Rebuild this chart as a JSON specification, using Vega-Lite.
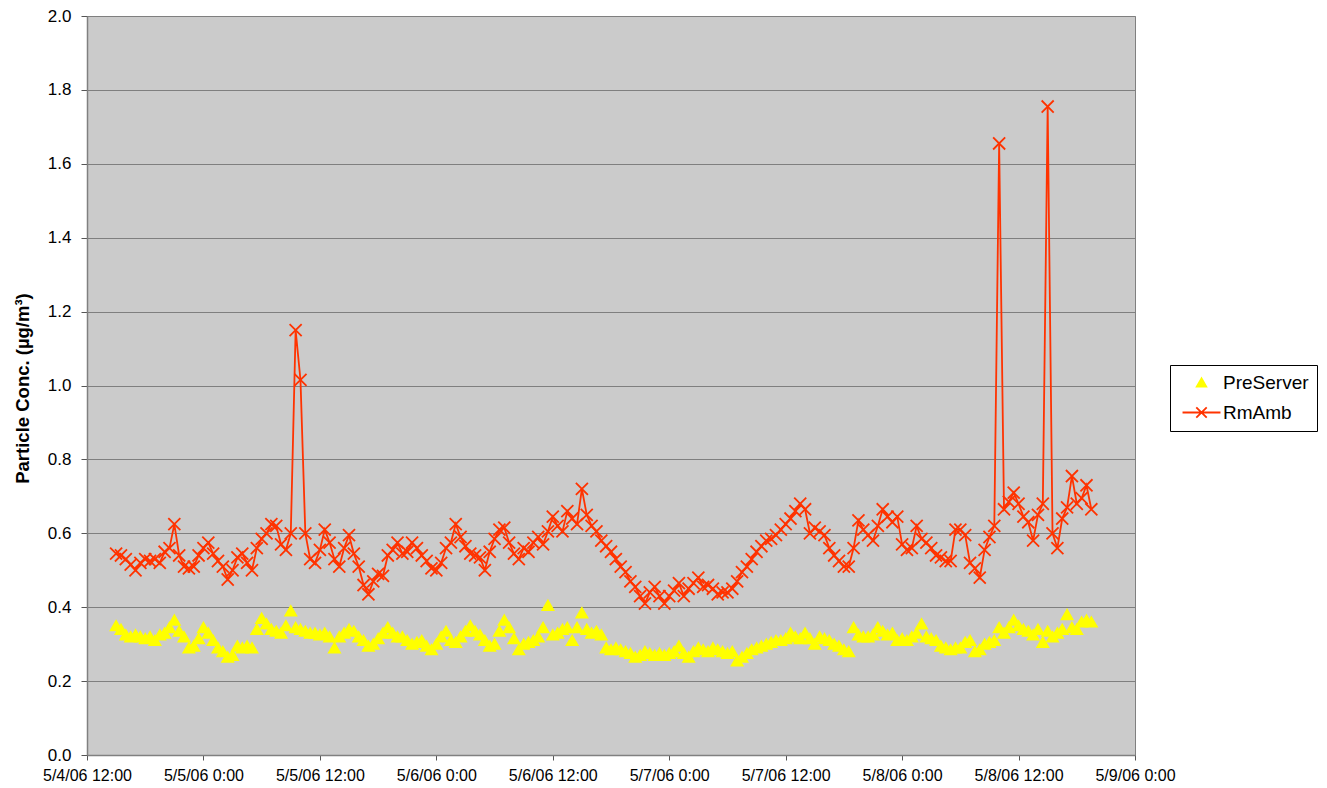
{
"$schema": "https://vega.github.io/schema/vega-lite/v6.json",
"width": 1048, "height": 739,
"autosize": {"type": "none"},
"padding": {"left": 87, "top": 16, "right": 192, "bottom": 33},
"background": "white",
"config": {"view": {"fill": "#CBCBCB", "stroke": "#808080", "strokeWidth": 1}, "font": "Liberation Sans"},
"data": {"values": [
{"t":"2006-05-04 15:00","PreServer":0.35,"RmAmb":0.545},
{"t":"2006-05-04 15:30","PreServer":0.34,"RmAmb":0.54},
{"t":"2006-05-04 16:00","PreServer":0.325,"RmAmb":0.53},
{"t":"2006-05-04 16:30","PreServer":0.32,"RmAmb":0.515},
{"t":"2006-05-04 17:00","PreServer":0.325,"RmAmb":0.50},
{"t":"2006-05-04 17:30","PreServer":0.32,"RmAmb":0.52},
{"t":"2006-05-04 18:00","PreServer":0.315,"RmAmb":0.53},
{"t":"2006-05-04 18:30","PreServer":0.32,"RmAmb":0.525},
{"t":"2006-05-04 19:00","PreServer":0.31,"RmAmb":0.53},
{"t":"2006-05-04 19:30","PreServer":0.325,"RmAmb":0.52},
{"t":"2006-05-04 20:00","PreServer":0.33,"RmAmb":0.55},
{"t":"2006-05-04 20:30","PreServer":0.345,"RmAmb":0.56},
{"t":"2006-05-04 21:00","PreServer":0.365,"RmAmb":0.625},
{"t":"2006-05-04 21:30","PreServer":0.335,"RmAmb":0.54},
{"t":"2006-05-04 22:00","PreServer":0.32,"RmAmb":0.51},
{"t":"2006-05-04 22:30","PreServer":0.29,"RmAmb":0.505},
{"t":"2006-05-04 23:00","PreServer":0.295,"RmAmb":0.51},
{"t":"2006-05-04 23:30","PreServer":0.315,"RmAmb":0.54},
{"t":"2006-05-05 00:00","PreServer":0.345,"RmAmb":0.56},
{"t":"2006-05-05 00:30","PreServer":0.33,"RmAmb":0.575},
{"t":"2006-05-05 01:00","PreServer":0.31,"RmAmb":0.545},
{"t":"2006-05-05 01:30","PreServer":0.29,"RmAmb":0.525},
{"t":"2006-05-05 02:00","PreServer":0.28,"RmAmb":0.51},
{"t":"2006-05-05 02:30","PreServer":0.265,"RmAmb":0.475},
{"t":"2006-05-05 03:00","PreServer":0.27,"RmAmb":0.50},
{"t":"2006-05-05 03:30","PreServer":0.295,"RmAmb":0.535},
{"t":"2006-05-05 04:00","PreServer":0.29,"RmAmb":0.545},
{"t":"2006-05-05 04:30","PreServer":0.295,"RmAmb":0.52},
{"t":"2006-05-05 05:00","PreServer":0.29,"RmAmb":0.50},
{"t":"2006-05-05 05:30","PreServer":0.34,"RmAmb":0.56},
{"t":"2006-05-05 06:00","PreServer":0.37,"RmAmb":0.585},
{"t":"2006-05-05 06:30","PreServer":0.355,"RmAmb":0.60},
{"t":"2006-05-05 07:00","PreServer":0.34,"RmAmb":0.625},
{"t":"2006-05-05 07:30","PreServer":0.335,"RmAmb":0.62},
{"t":"2006-05-05 08:00","PreServer":0.33,"RmAmb":0.57},
{"t":"2006-05-05 08:30","PreServer":0.35,"RmAmb":0.555},
{"t":"2006-05-05 09:00","PreServer":0.39,"RmAmb":0.60},
{"t":"2006-05-05 09:30","PreServer":0.345,"RmAmb":1.15},
{"t":"2006-05-05 10:00","PreServer":0.34,"RmAmb":1.015},
{"t":"2006-05-05 10:30","PreServer":0.335,"RmAmb":0.60},
{"t":"2006-05-05 11:00","PreServer":0.33,"RmAmb":0.53},
{"t":"2006-05-05 11:30","PreServer":0.33,"RmAmb":0.52},
{"t":"2006-05-05 12:00","PreServer":0.325,"RmAmb":0.555},
{"t":"2006-05-05 12:30","PreServer":0.33,"RmAmb":0.61},
{"t":"2006-05-05 13:00","PreServer":0.32,"RmAmb":0.575},
{"t":"2006-05-05 13:30","PreServer":0.29,"RmAmb":0.53},
{"t":"2006-05-05 14:00","PreServer":0.32,"RmAmb":0.51},
{"t":"2006-05-05 14:30","PreServer":0.33,"RmAmb":0.56},
{"t":"2006-05-05 15:00","PreServer":0.34,"RmAmb":0.595},
{"t":"2006-05-05 15:30","PreServer":0.335,"RmAmb":0.545},
{"t":"2006-05-05 16:00","PreServer":0.32,"RmAmb":0.51},
{"t":"2006-05-05 16:30","PreServer":0.31,"RmAmb":0.46},
{"t":"2006-05-05 17:00","PreServer":0.295,"RmAmb":0.435},
{"t":"2006-05-05 17:30","PreServer":0.30,"RmAmb":0.47},
{"t":"2006-05-05 18:00","PreServer":0.315,"RmAmb":0.49},
{"t":"2006-05-05 18:30","PreServer":0.33,"RmAmb":0.485},
{"t":"2006-05-05 19:00","PreServer":0.345,"RmAmb":0.54},
{"t":"2006-05-05 19:30","PreServer":0.33,"RmAmb":0.555},
{"t":"2006-05-05 20:00","PreServer":0.32,"RmAmb":0.575},
{"t":"2006-05-05 20:30","PreServer":0.32,"RmAmb":0.545},
{"t":"2006-05-05 21:00","PreServer":0.31,"RmAmb":0.55},
{"t":"2006-05-05 21:30","PreServer":0.30,"RmAmb":0.575},
{"t":"2006-05-05 22:00","PreServer":0.305,"RmAmb":0.56},
{"t":"2006-05-05 22:30","PreServer":0.31,"RmAmb":0.54},
{"t":"2006-05-05 23:00","PreServer":0.295,"RmAmb":0.525},
{"t":"2006-05-05 23:30","PreServer":0.285,"RmAmb":0.505},
{"t":"2006-05-06 00:00","PreServer":0.30,"RmAmb":0.50},
{"t":"2006-05-06 00:30","PreServer":0.32,"RmAmb":0.52},
{"t":"2006-05-06 01:00","PreServer":0.335,"RmAmb":0.56},
{"t":"2006-05-06 01:30","PreServer":0.31,"RmAmb":0.575},
{"t":"2006-05-06 02:00","PreServer":0.305,"RmAmb":0.625},
{"t":"2006-05-06 02:30","PreServer":0.32,"RmAmb":0.59},
{"t":"2006-05-06 03:00","PreServer":0.335,"RmAmb":0.565},
{"t":"2006-05-06 03:30","PreServer":0.35,"RmAmb":0.545},
{"t":"2006-05-06 04:00","PreServer":0.335,"RmAmb":0.54},
{"t":"2006-05-06 04:30","PreServer":0.325,"RmAmb":0.535},
{"t":"2006-05-06 05:00","PreServer":0.31,"RmAmb":0.50},
{"t":"2006-05-06 05:30","PreServer":0.295,"RmAmb":0.55},
{"t":"2006-05-06 06:00","PreServer":0.30,"RmAmb":0.585},
{"t":"2006-05-06 06:30","PreServer":0.335,"RmAmb":0.61},
{"t":"2006-05-06 07:00","PreServer":0.365,"RmAmb":0.615},
{"t":"2006-05-06 07:30","PreServer":0.345,"RmAmb":0.575},
{"t":"2006-05-06 08:00","PreServer":0.315,"RmAmb":0.545},
{"t":"2006-05-06 08:30","PreServer":0.285,"RmAmb":0.53},
{"t":"2006-05-06 09:00","PreServer":0.30,"RmAmb":0.56},
{"t":"2006-05-06 09:30","PreServer":0.305,"RmAmb":0.55},
{"t":"2006-05-06 10:00","PreServer":0.31,"RmAmb":0.575},
{"t":"2006-05-06 10:30","PreServer":0.32,"RmAmb":0.59},
{"t":"2006-05-06 11:00","PreServer":0.345,"RmAmb":0.57},
{"t":"2006-05-06 11:30","PreServer":0.405,"RmAmb":0.605},
{"t":"2006-05-06 12:00","PreServer":0.325,"RmAmb":0.645},
{"t":"2006-05-06 12:30","PreServer":0.33,"RmAmb":0.62},
{"t":"2006-05-06 13:00","PreServer":0.34,"RmAmb":0.605},
{"t":"2006-05-06 13:30","PreServer":0.345,"RmAmb":0.66},
{"t":"2006-05-06 14:00","PreServer":0.31,"RmAmb":0.64},
{"t":"2006-05-06 14:30","PreServer":0.345,"RmAmb":0.625},
{"t":"2006-05-06 15:00","PreServer":0.385,"RmAmb":0.72},
{"t":"2006-05-06 15:30","PreServer":0.34,"RmAmb":0.65},
{"t":"2006-05-06 16:00","PreServer":0.33,"RmAmb":0.62},
{"t":"2006-05-06 16:30","PreServer":0.335,"RmAmb":0.605},
{"t":"2006-05-06 17:00","PreServer":0.325,"RmAmb":0.58},
{"t":"2006-05-06 17:30","PreServer":0.29,"RmAmb":0.565},
{"t":"2006-05-06 18:00","PreServer":0.285,"RmAmb":0.55},
{"t":"2006-05-06 18:30","PreServer":0.29,"RmAmb":0.53},
{"t":"2006-05-06 19:00","PreServer":0.285,"RmAmb":0.51},
{"t":"2006-05-06 19:30","PreServer":0.28,"RmAmb":0.495},
{"t":"2006-05-06 20:00","PreServer":0.275,"RmAmb":0.47},
{"t":"2006-05-06 20:30","PreServer":0.265,"RmAmb":0.455},
{"t":"2006-05-06 21:00","PreServer":0.27,"RmAmb":0.43},
{"t":"2006-05-06 21:30","PreServer":0.28,"RmAmb":0.41},
{"t":"2006-05-06 22:00","PreServer":0.275,"RmAmb":0.44},
{"t":"2006-05-06 22:30","PreServer":0.27,"RmAmb":0.455},
{"t":"2006-05-06 23:00","PreServer":0.275,"RmAmb":0.43},
{"t":"2006-05-06 23:30","PreServer":0.27,"RmAmb":0.41},
{"t":"2006-05-07 00:00","PreServer":0.275,"RmAmb":0.43},
{"t":"2006-05-07 00:30","PreServer":0.28,"RmAmb":0.445},
{"t":"2006-05-07 01:00","PreServer":0.295,"RmAmb":0.465},
{"t":"2006-05-07 01:30","PreServer":0.275,"RmAmb":0.43},
{"t":"2006-05-07 02:00","PreServer":0.265,"RmAmb":0.45},
{"t":"2006-05-07 02:30","PreServer":0.28,"RmAmb":0.465},
{"t":"2006-05-07 03:00","PreServer":0.29,"RmAmb":0.48},
{"t":"2006-05-07 03:30","PreServer":0.285,"RmAmb":0.455},
{"t":"2006-05-07 04:00","PreServer":0.28,"RmAmb":0.46},
{"t":"2006-05-07 04:30","PreServer":0.29,"RmAmb":0.45},
{"t":"2006-05-07 05:00","PreServer":0.285,"RmAmb":0.435},
{"t":"2006-05-07 05:30","PreServer":0.28,"RmAmb":0.44},
{"t":"2006-05-07 06:00","PreServer":0.275,"RmAmb":0.44},
{"t":"2006-05-07 06:30","PreServer":0.28,"RmAmb":0.45},
{"t":"2006-05-07 07:00","PreServer":0.255,"RmAmb":0.47},
{"t":"2006-05-07 07:30","PreServer":0.265,"RmAmb":0.495},
{"t":"2006-05-07 08:00","PreServer":0.275,"RmAmb":0.51},
{"t":"2006-05-07 08:30","PreServer":0.285,"RmAmb":0.53},
{"t":"2006-05-07 09:00","PreServer":0.29,"RmAmb":0.55},
{"t":"2006-05-07 09:30","PreServer":0.295,"RmAmb":0.565},
{"t":"2006-05-07 10:00","PreServer":0.30,"RmAmb":0.58},
{"t":"2006-05-07 10:30","PreServer":0.305,"RmAmb":0.585},
{"t":"2006-05-07 11:00","PreServer":0.31,"RmAmb":0.595},
{"t":"2006-05-07 11:30","PreServer":0.31,"RmAmb":0.61},
{"t":"2006-05-07 12:00","PreServer":0.315,"RmAmb":0.625},
{"t":"2006-05-07 12:30","PreServer":0.33,"RmAmb":0.64},
{"t":"2006-05-07 13:00","PreServer":0.32,"RmAmb":0.66},
{"t":"2006-05-07 13:30","PreServer":0.315,"RmAmb":0.68},
{"t":"2006-05-07 14:00","PreServer":0.33,"RmAmb":0.665},
{"t":"2006-05-07 14:30","PreServer":0.315,"RmAmb":0.60},
{"t":"2006-05-07 15:00","PreServer":0.30,"RmAmb":0.615},
{"t":"2006-05-07 15:30","PreServer":0.32,"RmAmb":0.605},
{"t":"2006-05-07 16:00","PreServer":0.315,"RmAmb":0.595},
{"t":"2006-05-07 16:30","PreServer":0.31,"RmAmb":0.56},
{"t":"2006-05-07 17:00","PreServer":0.30,"RmAmb":0.54},
{"t":"2006-05-07 17:30","PreServer":0.295,"RmAmb":0.525},
{"t":"2006-05-07 18:00","PreServer":0.285,"RmAmb":0.51},
{"t":"2006-05-07 18:30","PreServer":0.28,"RmAmb":0.51},
{"t":"2006-05-07 19:00","PreServer":0.345,"RmAmb":0.56},
{"t":"2006-05-07 19:30","PreServer":0.325,"RmAmb":0.635},
{"t":"2006-05-07 20:00","PreServer":0.32,"RmAmb":0.61},
{"t":"2006-05-07 20:30","PreServer":0.32,"RmAmb":0.595},
{"t":"2006-05-07 21:00","PreServer":0.325,"RmAmb":0.58},
{"t":"2006-05-07 21:30","PreServer":0.345,"RmAmb":0.62},
{"t":"2006-05-07 22:00","PreServer":0.335,"RmAmb":0.665},
{"t":"2006-05-07 22:30","PreServer":0.325,"RmAmb":0.645},
{"t":"2006-05-07 23:00","PreServer":0.33,"RmAmb":0.63},
{"t":"2006-05-07 23:30","PreServer":0.31,"RmAmb":0.645},
{"t":"2006-05-08 00:00","PreServer":0.315,"RmAmb":0.57},
{"t":"2006-05-08 00:30","PreServer":0.31,"RmAmb":0.555},
{"t":"2006-05-08 01:00","PreServer":0.32,"RmAmb":0.56},
{"t":"2006-05-08 01:30","PreServer":0.33,"RmAmb":0.62},
{"t":"2006-05-08 02:00","PreServer":0.355,"RmAmb":0.585},
{"t":"2006-05-08 02:30","PreServer":0.32,"RmAmb":0.575},
{"t":"2006-05-08 03:00","PreServer":0.315,"RmAmb":0.56},
{"t":"2006-05-08 03:30","PreServer":0.31,"RmAmb":0.54},
{"t":"2006-05-08 04:00","PreServer":0.295,"RmAmb":0.535},
{"t":"2006-05-08 04:30","PreServer":0.29,"RmAmb":0.525},
{"t":"2006-05-08 05:00","PreServer":0.285,"RmAmb":0.525},
{"t":"2006-05-08 05:30","PreServer":0.29,"RmAmb":0.61},
{"t":"2006-05-08 06:00","PreServer":0.29,"RmAmb":0.61},
{"t":"2006-05-08 06:30","PreServer":0.305,"RmAmb":0.595},
{"t":"2006-05-08 07:00","PreServer":0.31,"RmAmb":0.52},
{"t":"2006-05-08 07:30","PreServer":0.28,"RmAmb":0.505},
{"t":"2006-05-08 08:00","PreServer":0.285,"RmAmb":0.48},
{"t":"2006-05-08 08:30","PreServer":0.30,"RmAmb":0.555},
{"t":"2006-05-08 09:00","PreServer":0.305,"RmAmb":0.59},
{"t":"2006-05-08 09:30","PreServer":0.31,"RmAmb":0.62},
{"t":"2006-05-08 10:00","PreServer":0.345,"RmAmb":1.655},
{"t":"2006-05-08 10:30","PreServer":0.33,"RmAmb":0.665},
{"t":"2006-05-08 11:00","PreServer":0.345,"RmAmb":0.685},
{"t":"2006-05-08 11:30","PreServer":0.365,"RmAmb":0.71},
{"t":"2006-05-08 12:00","PreServer":0.35,"RmAmb":0.68},
{"t":"2006-05-08 12:30","PreServer":0.34,"RmAmb":0.645},
{"t":"2006-05-08 13:00","PreServer":0.335,"RmAmb":0.63},
{"t":"2006-05-08 13:30","PreServer":0.325,"RmAmb":0.58},
{"t":"2006-05-08 14:00","PreServer":0.34,"RmAmb":0.65},
{"t":"2006-05-08 14:30","PreServer":0.305,"RmAmb":0.68},
{"t":"2006-05-08 15:00","PreServer":0.335,"RmAmb":1.755},
{"t":"2006-05-08 15:30","PreServer":0.32,"RmAmb":0.60},
{"t":"2006-05-08 16:00","PreServer":0.33,"RmAmb":0.56},
{"t":"2006-05-08 16:30","PreServer":0.34,"RmAmb":0.64},
{"t":"2006-05-08 17:00","PreServer":0.38,"RmAmb":0.67},
{"t":"2006-05-08 17:30","PreServer":0.345,"RmAmb":0.755},
{"t":"2006-05-08 18:00","PreServer":0.34,"RmAmb":0.68},
{"t":"2006-05-08 18:30","PreServer":0.36,"RmAmb":0.695},
{"t":"2006-05-08 19:00","PreServer":0.365,"RmAmb":0.73},
{"t":"2006-05-08 19:30","PreServer":0.36,"RmAmb":0.665}
]},
"transform": [{"fold": ["PreServer", "RmAmb"], "as": ["series", "value"]}],
"encoding": {
  "x": {"field": "t", "type": "temporal",
    "scale": {"domain": [{"year": 2006, "month": 5, "date": 4, "hours": 12}, {"year": 2006, "month": 5, "date": 9, "hours": 0}]},
    "axis": {"title": null, "grid": false, "format": "%-m/%-d/%y %-H:%M", "labelAngle": 0,
      "values": [
        {"year": 2006, "month": 5, "date": 4, "hours": 12},
        {"year": 2006, "month": 5, "date": 5, "hours": 0},
        {"year": 2006, "month": 5, "date": 5, "hours": 12},
        {"year": 2006, "month": 5, "date": 6, "hours": 0},
        {"year": 2006, "month": 5, "date": 6, "hours": 12},
        {"year": 2006, "month": 5, "date": 7, "hours": 0},
        {"year": 2006, "month": 5, "date": 7, "hours": 12},
        {"year": 2006, "month": 5, "date": 8, "hours": 0},
        {"year": 2006, "month": 5, "date": 8, "hours": 12},
        {"year": 2006, "month": 5, "date": 9, "hours": 0}],
      "labelFont": "Liberation Sans", "labelFontSize": 16, "labelColor": "black",
      "labelFlush": false, "labelOverlap": false, "labelAlign": "center", "labelPadding": 7,
      "tickSize": 5, "tickColor": "#555555", "domainColor": "#808080", "domainWidth": 1.5}},
  "y": {"field": "value", "type": "quantitative",
    "scale": {"domain": [0, 2], "nice": false, "zero": true},
    "axis": {"title": "Particle Conc. (µg/m³)", "values": [0, 0.2, 0.4, 0.6, 0.8, 1.0, 1.2, 1.4, 1.6, 1.8, 2.0],
      "format": ".1f", "grid": true, "gridColor": "#7F7F7F", "gridWidth": 1,
      "labelFont": "Liberation Sans", "labelFontSize": 17, "labelColor": "black", "labelPadding": 10,
      "tickSize": 6, "tickColor": "#555555", "domainColor": "#808080", "domainWidth": 1.5,
      "titleFont": "Liberation Sans", "titleFontSize": 18.5, "titleFontWeight": "bold", "titleColor": "black",
      "titleX": -65, "titleY": 372, "titleAngle": -90, "titleAlign": "center", "titleBaseline": "middle"}}
},
"layer": [
  {"transform": [{"filter": "datum.series === 'RmAmb'"}],
   "mark": {"type": "line", "color": "#FF3300", "strokeWidth": 1.8}},
  {"mark": {"type": "point", "opacity": 1, "strokeWidth": 1.8},
   "encoding": {
     "shape": {"field": "series", "type": "nominal",
       "scale": {"domain": ["PreServer", "RmAmb"], "range": ["triangle-up", "M-1.1,-1.1L1.1,1.1M-1.1,1.1L1.1,-1.1"]},
       "legend": null},
     "fill": {"field": "series", "type": "nominal",
       "scale": {"domain": ["PreServer", "RmAmb"], "range": ["#FFFF00", "transparent"]}, "legend": null},
     "stroke": {"field": "series", "type": "nominal",
       "scale": {"domain": ["PreServer", "RmAmb"], "range": ["#FFFF00", "#FF3300"]}, "legend": null},
     "size": {"value": 120}
   }},
  {"mark": {"type": "point", "opacity": 1, "strokeWidth": 1.8},
   "encoding": {
     "shape": {"field": "series", "type": "nominal",
       "scale": {"domain": ["PreServer", "RmAmb"], "range": ["triangle-up", "M-4,0L4,0M-1.1,-1.1L1.1,1.1M-1.1,1.1L1.1,-1.1"]},
       "legend": {"title": null, "orient": "none", "legendX": 1083, "legendY": 349,
         "fillColor": "white", "strokeColor": "black", "padding": 8, "cornerRadius": 0,
         "symbolOffset": 14, "labelOffset": 12, "symbolSize": 90, "rowPadding": 10, "symbolStrokeWidth": 1.8,
         "labelFont": "Liberation Sans", "labelFontSize": 19, "labelColor": "black"}},
     "fill": {"field": "series", "type": "nominal",
       "scale": {"domain": ["PreServer", "RmAmb"], "range": ["#FFFF00", "transparent"]}},
     "stroke": {"field": "series", "type": "nominal",
       "scale": {"domain": ["PreServer", "RmAmb"], "range": ["#FFFF00", "#FF3300"]}},
     "size": {"value": 0}
   }}
],
"resolve": {"scale": {"shape": "independent"}, "legend": {"shape": "independent", "fill": "independent", "stroke": "independent"}}
}
